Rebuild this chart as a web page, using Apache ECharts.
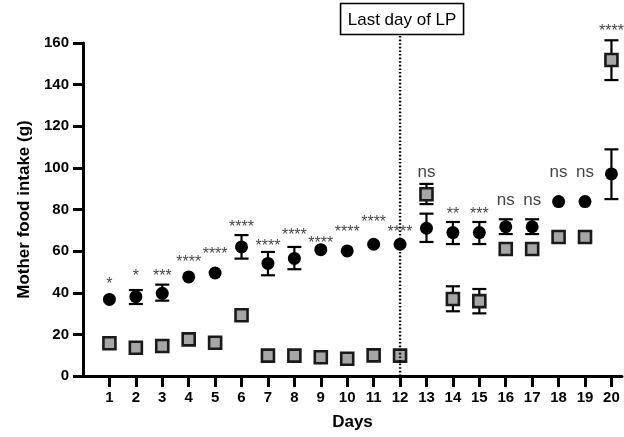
<!DOCTYPE html>
<html><head><meta charset="utf-8">
<script src="https://cdn.jsdelivr.net/npm/echarts@6/dist/echarts.min.js"></script>
<style>html,body{margin:0;padding:0;background:#fff}#c{width:624px;height:437px}</style>
</head><body><div id="c"></div>
<script>
const days = [1,2,3,4,5,6,7,8,9,10,11,12,13,14,15,16,17,18,19,20];
const ctrlMean  = [36.8,38.1,39.7,47.6,49.5,62.0,54.1,56.5,60.7,60.1,63.3,63.3,71.0,68.9,68.9,71.7,71.7,83.8,83.8,97.1];
const ctrlUpper = [null,41.3,43.9,null,null,67.7,59.6,62.0,null,null,null,null,78.0,74.0,74.0,75.3,75.3,null,null,108.9];
const ctrlLower = [null,34.6,36.2,null,null,56.4,48.4,51.3,null,null,null,null,64.4,63.4,63.4,68.2,68.2,null,null,85.0];
const lpMean  = [15.7,13.6,14.4,17.6,16.0,29.2,9.8,9.8,9.0,8.3,9.9,9.8,87.3,37.0,36.0,61.0,61.0,66.8,66.8,151.8];
const lpUpper = [null,null,null,null,null,null,null,null,null,null,null,null,92.3,43.1,41.8,null,null,null,null,161.3];
const lpLower = [null,null,null,null,null,null,null,null,null,null,null,null,82.6,31.1,30.1,null,null,null,null,142.2];
const sigText = ['*','*','***','****','****','****','****','****','****','****','****','****','ns','**','***','ns','ns','ns','ns','****'];
const sigY    = [43.9,47.6,47.9,54.6,58.3,71.3,62.3,67.3,63.6,69.0,73.5,68.9,97.8,77.5,77.5,84.3,84.3,98.1,98.1,165.3];
const lpDay = 12;
const lpLabel = 'Last day of LP';
const xTitle = 'Days';
const yTitle = 'Mother food intake (g)';

const font = 'Arial, "Liberation Sans", Helvetica, sans-serif';
const chart = echarts.init(document.getElementById('c'), null, {renderer:'canvas'});

function errSeries(upper, lower) {
  const data = [];
  days.forEach((d,i)=>{ if (upper[i]!=null) data.push([d, lower[i], upper[i]]); });
  return {
    type:'custom', z:3, silent:true, clip:false,
    encode:{x:0, y:[1,2]},
    data,
    renderItem(params, api){
      const x = api.value(0);
      const lo = api.coord([x, api.value(1)]);
      const hi = api.coord([x, api.value(2)]);
      const w = 7;
      const style = {stroke:'#000', lineWidth:2.2};
      return {type:'group', children:[
        {type:'line', shape:{x1:lo[0],y1:lo[1],x2:hi[0],y2:hi[1]}, style},
        {type:'line', shape:{x1:lo[0]-w,y1:lo[1],x2:lo[0]+w,y2:lo[1]}, style},
        {type:'line', shape:{x1:hi[0]-w,y1:hi[1],x2:hi[0]+w,y2:hi[1]}, style}
      ]};
    }
  };
}

const option = {
  animation:false,
  backgroundColor:'#fff',
  grid:{left:83, right:2, top:43, bottom:61},
  xAxis:{
    type:'value', min:0, max:20.4,
    name:xTitle, nameLocation:'middle', nameGap:38,
    nameTextStyle:{fontFamily:font, fontWeight:'bold', fontSize:17, color:'#000'},
    axisLine:{show:true, onZero:false, lineStyle:{color:'#000', width:3}},
    axisTick:{show:true, length:11, lineStyle:{color:'#000', width:3}, customValues:days},
    axisLabel:{fontFamily:font, fontWeight:'bold', fontSize:15, color:'#000', margin:14, customValues:days},
    splitLine:{show:false}
  },
  yAxis:{
    type:'value', min:0, max:160, interval:20,
    name:yTitle, nameLocation:'middle', nameGap:48,
    nameTextStyle:{fontFamily:font, fontWeight:'bold', fontSize:17, color:'#000'},
    axisLine:{show:true, lineStyle:{color:'#000', width:3}},
    axisTick:{show:true, length:10, lineStyle:{color:'#000', width:3}},
    axisLabel:{fontFamily:font, fontWeight:'bold', fontSize:15, color:'#000', margin:14},
    splitLine:{show:false}
  },
  series:[
    errSeries(lpUpper, lpLower),
    errSeries(ctrlUpper, ctrlLower),
    {
      type:'scatter', z:4, symbol:'rect', symbolSize:12,
      itemStyle:{color:'#a6a6a6', borderColor:'#1a1a1a', borderWidth:2.6, opacity:1},
      data: days.map((d,i)=>[d, lpMean[i]])
    },
    {
      type:'scatter', z:5, symbol:'circle', symbolSize:13,
      itemStyle:{color:'#000', opacity:1},
      data: days.map((d,i)=>[d, ctrlMean[i]])
    },
    {
      type:'scatter', z:6, symbolSize:0, clip:false, silent:true,
      data: days.map((d,i)=>({value:[d, sigY[i]], label:{formatter:sigText[i], fontSize: sigText[i]==='ns' ? 17 : 16}})),
      label:{show:true, position:'inside', fontFamily:font, fontSize:16, color:'#111'}
    },
    {
      type:'custom', z:10, silent:true, clip:false,
      encode:{x:0, y:1},
      data:[[lpDay, 0]],
      renderItem(params, api){
        const p0 = api.coord([api.value(0), 0]);
        const cx = p0[0];
        const boxTop = 3.5, boxH = 31, boxW = 123, bx = cx + 2;
        return {type:'group', children:[
          {type:'line', shape:{x1:cx, y1:p0[1], x2:cx, y2:boxTop+boxH},
           style:{stroke:'#000', lineWidth:2.4, lineDash:[1.6,2]}},
          {type:'rect', shape:{x:bx-boxW/2, y:boxTop, width:boxW, height:boxH},
           style:{fill:'#fff', stroke:'#000', lineWidth:1.6}},
          {type:'text', x:bx, y:boxTop+boxH/2+1,
           style:{text:lpLabel, fontFamily:font, fontSize:17, fill:'#000', align:'center', verticalAlign:'middle'}}
        ]};
      }
    }
  ]
};
chart.setOption(option);
</script>
</body></html>
